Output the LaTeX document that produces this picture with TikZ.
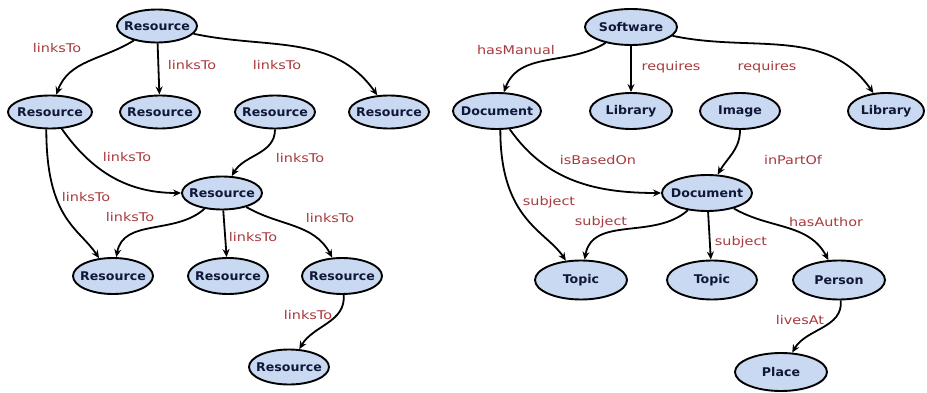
\documentclass[tikz,border=0pt]{standalone}
\usepackage{fontspec}
\usetikzlibrary{arrows.meta,shapes.geometric}
\newfontfamily\nodefont[FakeStretch=1.05]{DejaVu Sans}
\newfontfamily\labfont[FakeStretch=1.2]{DejaVu Sans}
\definecolor{nodefill}{RGB}{201,217,242}
\definecolor{nodetext}{RGB}{16,24,56}
\definecolor{labred}{RGB}{168,58,62}
\tikzset{
  res/.style={ellipse, draw=black, line width=1.9pt, fill=nodefill, text=nodetext,
    font=\nodefont\bfseries\fontsize{12}{14}\selectfont, inner xsep=-5pt, inner ysep=0pt,
    minimum width=80pt, minimum height=33pt},
  big/.style={res, minimum width=90pt, minimum height=36pt},
  lab/.style={text=labred, font=\labfont\fontsize{12}{14}\selectfont, inner sep=0pt},
  arr/.style={-{Stealth[length=8pt,width=7pt]}, line width=1.8pt, black}
}
\begin{document}
\begin{tikzpicture}[x=1pt,y=-1pt]
\useasboundingbox[fill=white] (0,0) rectangle (927,393);
% ---------- left graph ----------
\node[res] (t) at (157,26) {Resource};
\node[res, minimum width=84pt] (r1) at (50,112) {Resource};
\node[res] (r2) at (160,112) {Resource};
\node[res] (r3) at (275,112) {Resource};
\node[res] (r4) at (389,112) {Resource};
\node[res] (m) at (222,193) {Resource};
\node[res, minimum height=36pt] (b1) at (113,276) {Resource};
\node[res, minimum height=36pt] (b2) at (228,276) {Resource};
\node[res, minimum height=36pt] (b3) at (342,276) {Resource};
\node[res, minimum height=35pt] (z) at (289,367) {Resource};
\draw[arr] (t) to[out=212,in=70] (r1);
\draw[arr] (t) -- (r2);
\draw[arr] (t) to[out=-12,in=125] (r4);
\draw[arr] (r1) to[out=-55,in=180] (m);
\draw[arr] (r3) to[out=-90,in=60] (m);
\draw[arr] (r1.-102) .. controls +(0,90) and +(-20,-30) .. (b1.128);
\draw[arr] (m) to[out=222,in=80] (b1);
\draw[arr] (m) -- (b2);
\draw[arr] (m) to[out=-30,in=118] (b3);
\draw[arr] (b3) to[out=-85,in=60] (z);
\node[lab] (l1) at (57,48) {linksTo};
\node[lab] (l2) at (192,65) {linksTo};
\node[lab] (l3) at (277,65) {linksTo};
\node[lab] (l4) at (127,157) {linksTo};
\node[lab] (l5) at (300,158) {linksTo};
\node[lab] (l6) at (86,197) {linksTo};
\node[lab] (l7) at (130,217) {linksTo};
\node[lab] (l8) at (253,237) {linksTo};
\node[lab] (l9) at (330,218) {linksTo};
\node[lab] (l10) at (308,315) {linksTo};
% ---------- right graph ----------
\node[big, minimum width=92pt] (sw) at (631,27) {Software};
\node[big, minimum width=74pt] (da) at (497,111) {Document};
\node[big, minimum width=82pt] (la) at (631,111) {Library};
\node[big, minimum width=80pt] (im) at (740,111) {Image};
\node[big, minimum width=76pt] (lb) at (886,111) {Library};
\node[big] (db) at (707,193) {Document};
\node[big, minimum width=92pt, minimum height=39pt] (ta) at (581,280) {Topic};
\node[big, minimum width=90pt, minimum height=39pt] (tb) at (712,280) {Topic};
\node[big, minimum width=92pt, minimum height=39pt] (pe) at (839,280) {Person};
\node[big, minimum width=92pt, minimum height=38pt] (pl) at (781,372) {Place};
\draw[arr] (sw) to[out=212,in=70] (da);
\draw[arr] (sw) -- (la);
\draw[arr] (sw) to[out=-12,in=125] (lb);
\draw[arr] (da) to[out=-55,in=180] (db);
\draw[arr] (im) to[out=-90,in=60] (db);
\draw[arr] (da.-80) .. controls +(0,90) and +(-20,-30) .. (ta.128);
\draw[arr] (db) to[out=222,in=80] (ta);
\draw[arr] (db) -- (tb);
\draw[arr] (db) to[out=-30,in=118] (pe);
\draw[arr] (pe) to[out=-85,in=60] (pl);
\node[lab] (k1) at (516,50) {hasManual};
\node[lab] (k2) at (671,67) {requires};
\node[lab] (k3) at (767,67) {requires};
\node[lab] (k4) at (598,160) {isBasedOn};
\node[lab] (k5) at (793,160) {inPartOf};
\node[lab] (k6) at (549,202) {subject};
\node[lab] (k7) at (601,222) {subject};
\node[lab] (k8) at (741,242) {subject};
\node[lab] (k9) at (826,222) {hasAuthor};
\node[lab] (k10) at (800,320) {livesAt};
\end{tikzpicture}
\end{document}
